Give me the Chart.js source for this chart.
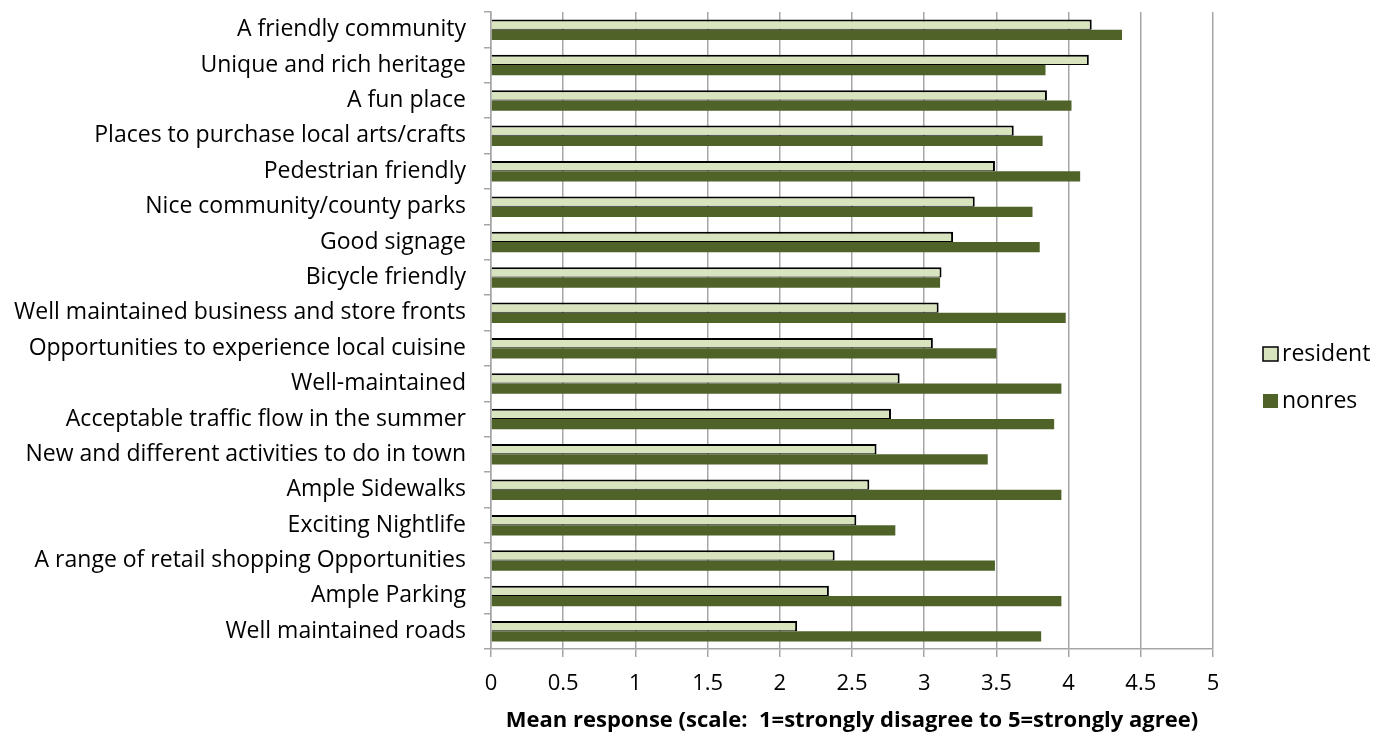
<!DOCTYPE html>
<html>
<head>
<meta charset="utf-8">
<script src="https://cdn.jsdelivr.net/npm/chart.js@4.4.1/dist/chart.umd.min.js"></script>
<style>
  html, body { margin: 0; padding: 0; background: #fff; }
  #contenedor { width: 1387px; height: 738px; position: relative; }
</style>
</head>
<body>
<div id="contenedor"><canvas id="grafico"></canvas></div>
<script>
// Categorías (de arriba hacia abajo)
const categorias = [
  'A friendly community',
  'Unique and rich heritage',
  'A fun place',
  'Places to purchase local arts/crafts',
  'Pedestrian friendly',
  'Nice community/county parks',
  'Good signage',
  'Bicycle friendly',
  'Well maintained business and store fronts',
  'Opportunities to experience local cuisine',
  'Well-maintained',
  'Acceptable traffic flow in the summer',
  'New and different activities to do in town',
  'Ample Sidewalks',
  'Exciting Nightlife',
  'A range of retail shopping Opportunities',
  'Ample Parking',
  'Well maintained roads'
];

// Respuesta media por grupo
const residente = [4.16, 4.14, 3.85, 3.62, 3.49, 3.35, 3.20, 3.12, 3.10, 3.06, 2.83, 2.77, 2.67, 2.62, 2.53, 2.38, 2.34, 2.12];
const noResidente = [4.37, 3.84, 4.02, 3.82, 4.08, 3.75, 3.80, 3.11, 3.98, 3.50, 3.95, 3.90, 3.44, 3.95, 2.80, 3.49, 3.95, 3.81];

// Etiquetas del eje X
const etiquetasX = ['0', '0.5', '1', '1.5', '2', '2.5', '3', '3.5', '4', '4.5', '5'];

const fuente = '"Open Sans", Lato, sans-serif';

// Leyenda dibujada a mano a la derecha
const leyendaPlugin = {
  id: 'leyenda',
  afterDraw(chart) {
    const ctx = chart.ctx;
    ctx.save();
    chart.data.datasets.forEach((ds, i) => {
      const y = 354 + i * 47;
      ctx.fillStyle = ds.backgroundColor;
      ctx.fillRect(1263, y - 7, 15, 14);
      if (i === 0) {
        ctx.strokeStyle = '#000';
        ctx.lineWidth = 1.5;
        ctx.strokeRect(1263, y - 7, 15, 14);
      }
      ctx.fillStyle = '#000';
      ctx.font = '23px ' + fuente;
      ctx.textBaseline = 'middle';
      ctx.textAlign = 'left';
      ctx.fillText(ds.label, 1282, y);
    });
    ctx.restore();
  }
};

const ctx = document.getElementById('grafico').getContext('2d');
new Chart(ctx, {
  type: 'bar',
  data: {
    labels: categorias,
    datasets: [
      {
        label: 'resident',
        data: residente,
        backgroundColor: '#d7e4bd',
        borderColor: '#000',
        borderWidth: { top: 2, right: 2, bottom: 1, left: 0 },
        borderSkipped: false,
        categoryPercentage: 0.58,
        barPercentage: 1.0
      },
      {
        label: 'nonres',
        data: noResidente,
        backgroundColor: '#4f6228',
        borderWidth: 0,
        categoryPercentage: 0.58,
        barPercentage: 1.0
      }
    ]
  },
  options: {
    indexAxis: 'y',
    responsive: true,
    maintainAspectRatio: false,
    animation: false,
    layout: { padding: { top: 12, right: 174, bottom: 0, left: 0 } },
    plugins: {
      legend: { display: false },
      tooltip: { enabled: false }
    },
    scales: {
      x: {
        min: 0,
        max: 5,
        ticks: {
          stepSize: 0.5,
          color: '#000',
          font: { family: fuente, size: 22 },
          padding: 14,
          callback: (v, i) => etiquetasX[i]
        },
        grid: { color: '#a6a6a6', lineWidth: 1.5, tickLength: 8 },
        border: { color: '#a6a6a6', width: 1.5 },
        title: {
          display: true,
          text: 'Mean response (scale:  1=strongly disagree to 5=strongly agree)',
          color: '#000',
          font: { family: fuente, size: 22, weight: 'bold' },
          padding: { top: 3, bottom: 4 }
        },
        afterFit: (escala) => { escala.height = 89; escala.paddingLeft = 0; escala.paddingRight = 0; }
      },
      y: {
        ticks: {
          color: '#000',
          font: { family: fuente, size: 23 },
          padding: 18,
          autoSkip: false
        },
        grid: { drawOnChartArea: false, color: '#a6a6a6', lineWidth: 1.5, tickLength: 7 },
        border: { color: '#a6a6a6', width: 1.5 },
        afterFit: (escala) => { escala.width = 491; escala.paddingTop = 0; escala.paddingBottom = 0; }
      }
    }
  },
  plugins: [leyendaPlugin]
});
</script>
</body>
</html>
